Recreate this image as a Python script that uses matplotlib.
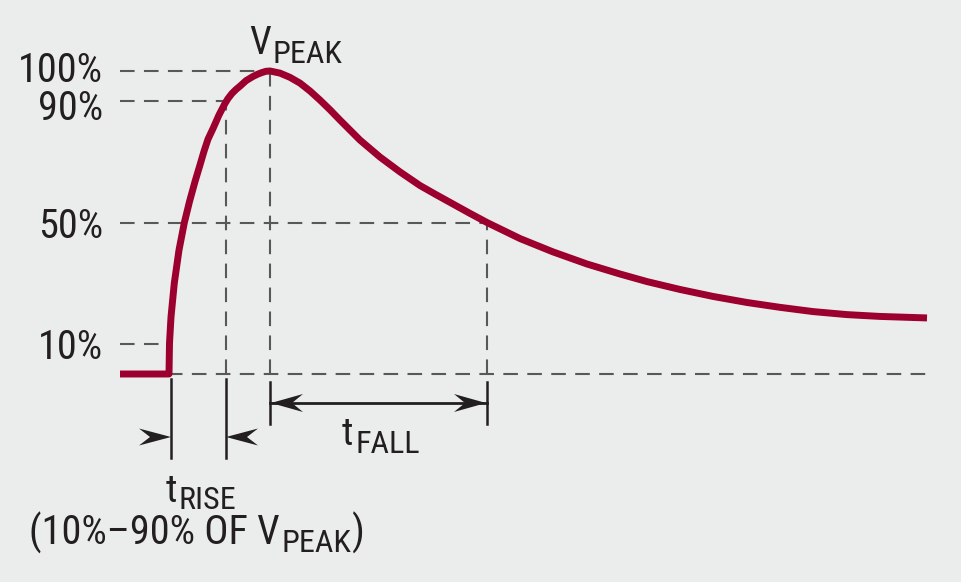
import matplotlib
matplotlib.use("Agg")
from matplotlib import pyplot as plt
from matplotlib import font_manager
from matplotlib.patches import Polygon

# pulse shape (time in arbitrary units, amplitude in % of V_PEAK)
time = [-1.0, -0.02, -0.01, 0.02, 0.086, 0.18, 0.286, 0.39, 0.50, 0.60, 0.68,
        0.76, 0.86, 0.98, 1.10, 1.16, 1.24, 1.32, 1.40, 1.52, 1.66, 1.76,
        1.84, 1.92, 2.00, 2.20, 2.40, 2.60, 2.80, 3.00, 3.20, 3.40, 3.80,
        4.20, 4.60, 5.00, 5.32, 5.66, 6.00, 6.34, 7.00, 7.66, 8.34, 9.00,
        9.54, 10.20, 10.86, 11.54, 12.20, 12.86, 13.54, 14.20, 15.14]
amp = [0, 0, 10.2, 18.8, 30.0, 40.9, 49.9, 56.9, 63.5, 69.0, 73.5,
       77.5, 81.0, 85.5, 89.3, 90.9, 92.6, 93.9, 95.0, 96.8, 98.2, 99.0,
       99.5, 99.9, 100.0, 99.3, 97.9, 96.0, 93.4, 90.4, 87.2, 83.8, 77.2,
       71.6, 66.7, 62.2, 59.2, 56.1, 53.0, 50.0, 44.7, 40.3, 36.3, 33.0,
       30.5, 27.9, 25.6, 23.6, 22.0, 20.6, 19.6, 19.0, 18.5]

levels = [10, 50, 90, 100]
level_labels = ["10%", "50%", "90%", "100%"]
t10 = 0.0
t90 = 1.12
tpeak = 2.0
t50 = 6.34

BG = "#ebedec"
RED = "#9c002f"
GRAY = "#585858"
INK = "#231f20"

# a narrow sans if one is there
names = {f.name for f in font_manager.fontManager.ttflist}
FONT = [n for n in ["Liberation Sans Narrow", "Roboto Condensed", "Arial Narrow",
                    "Roboto", "Liberation Sans"] if n in names] + ["DejaVu Sans"]
narrow = FONT[0] in ("Liberation Sans Narrow", "Roboto Condensed", "Arial Narrow")
BIG = 29 if narrow else 25
SUB = 23 if narrow else 20

XPX = 50.0   # pixels per time unit
YPX = 3.03   # pixels per percent


def px(x, y):
    """pixel position (from top left) -> data coords"""
    return (x - 170) / XPX, (374 - y) / YPX


fig = plt.figure(figsize=(9.61, 5.82), dpi=100)
fig.patch.set_facecolor(BG)
ax = fig.add_axes([0, 0, 1, 1])
ax.set_facecolor(BG)
ax.set_xlim(px(0, 0)[0], px(961, 0)[0])
ax.set_ylim(px(0, 582)[1], px(0, 0)[1])
ax.axis("off")

dash = dict(color=GRAY, lw=1.5, linestyle=(0, (7, 4.5)), zorder=1)

# dashed guides
t_at = {10: t10 + 0.01, 50: t50, 90: t90, 100: tpeak}
for lv in levels:
    ax.plot([time[0], t_at[lv]], [lv, lv], **dash)
    ax.plot([t_at[lv], t_at[lv]], [0, lv], **dash)
ax.plot([time[0], time[-1]], [0, 0], **dash)

# the pulse
ax.plot(time, amp, color=RED, lw=5, solid_capstyle="butt",
        solid_joinstyle="round", zorder=2)

txt = dict(color=INK, family=FONT, va="baseline")

# level labels
lab_base = {10: 359, 50: 238, 90: 120, 100: 82}
for lv, s in zip(levels, level_labels):
    ax.text(*px(103, lab_base[lv]), s, ha="right", fontsize=BIG, **txt)

# solid ticks below the baseline
lk = dict(color=INK, lw=1.8, zorder=3)
for t in (t10 + 0.01, t90):
    ax.plot([t, t], [px(0, 379)[1], px(0, 458)[1]], **lk)
for t in (tpeak, t50):
    ax.plot([t, t], [px(0, 382)[1], px(0, 424)[1]], **lk)


def head(tip_x, tip_y, d, length=32, half=9, notch=11):
    pts = [(tip_x, tip_y), (tip_x - d * length, tip_y - half),
           (tip_x - d * (length - notch), tip_y),
           (tip_x - d * length, tip_y + half)]
    ax.add_patch(Polygon([px(*p) for p in pts], closed=True,
                         facecolor=INK, edgecolor="none", zorder=4))


tx = lambda t: 170 + t * XPX
head(tx(t10) + 1, 437, 1, half=8.5)
head(tx(t90), 437, -1, half=8.5)
ax.plot([tpeak, t50], [px(0, 403)[1]] * 2, color=INK, lw=2, zorder=3)
head(tx(tpeak) + 1, 403, -1)
head(tx(t50) - 1, 403, 1)

renderer = fig.canvas.get_renderer()


def width_px(s, size):
    t = ax.text(0, 0, s, fontsize=size, family=FONT)
    w = t.get_window_extent(renderer).width
    t.remove()
    return w


def label(center, parts):
    """parts: (string, size, baseline_y, gap_before)"""
    widths = [width_px(s, sz) for s, sz, _, _ in parts]
    total = sum(widths) + sum(g for _, _, _, g in parts)
    x = center - total / 2
    for (s, sz, base, g), w in zip(parts, widths):
        x += g
        ax.text(*px(x, base), s, fontsize=sz, **txt)
        x += w


label(296, [("V", BIG - 1, 54, 0), ("PEAK", SUB, 63, 1)])
label(381, [("t", BIG - 1, 445, 0), ("FALL", SUB, 453, 2)])
label(201, [("t", BIG - 1, 502, 0), ("RISE", SUB, 509, 2)])
label(197, [("(10%\u201390% OF V", BIG, 545, 0), ("PEAK", SUB, 552, 1),
            (")", BIG, 545, 1)])

fig.savefig("out.png", dpi=100, facecolor=BG)
